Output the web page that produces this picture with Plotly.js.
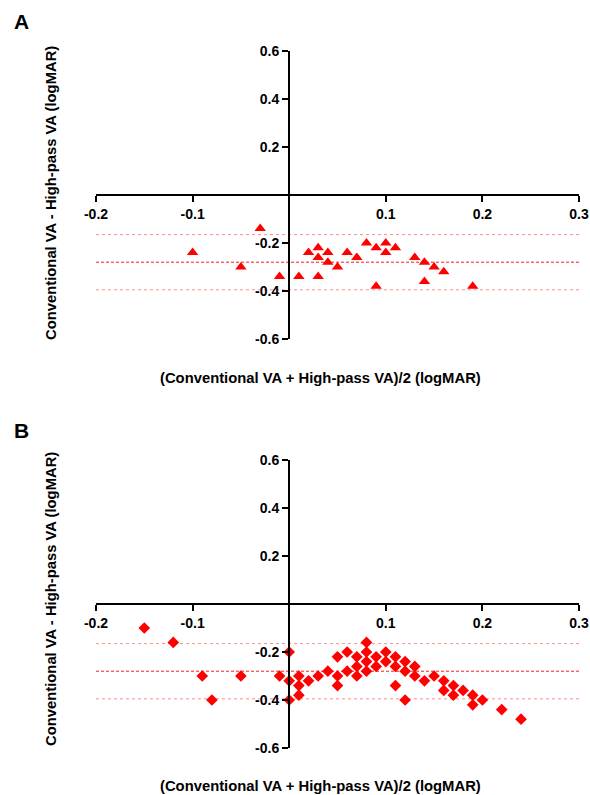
<!DOCTYPE html>
<html>
<head>
<meta charset="utf-8">
<script src="https://cdn.plot.ly/plotly-3.0.1.min.js"></script>
<style>html,body{margin:0;padding:0;background:#fff;}#chart{width:590px;height:795px;}</style>
</head>
<body>
<div id="chart"></div>
<script>
// Panel A data (triangles)
const aMean = [-0.03, -0.10, -0.05, -0.01, 0.01, 0.02, 0.03, 0.03, 0.03, 0.04, 0.04, 0.05, 0.06, 0.07, 0.08, 0.09, 0.09, 0.10, 0.10, 0.11, 0.13, 0.14, 0.14, 0.15, 0.16, 0.19];
const aDiff = [-0.14, -0.24, -0.30, -0.34, -0.34, -0.24, -0.22, -0.26, -0.34, -0.24, -0.28, -0.30, -0.24, -0.26, -0.20, -0.22, -0.38, -0.20, -0.24, -0.22, -0.26, -0.28, -0.36, -0.30, -0.32, -0.38];
// Panel B data (diamonds)
const bMean = [-0.15, -0.12, -0.09, -0.08, -0.05, -0.01, 0.00, 0.00, 0.00, 0.01, 0.01, 0.01, 0.02, 0.03, 0.04, 0.05, 0.05, 0.05, 0.06, 0.06, 0.07, 0.07, 0.07, 0.08, 0.08, 0.08, 0.08, 0.09, 0.09, 0.10, 0.10, 0.11, 0.11, 0.11, 0.12, 0.12, 0.12, 0.13, 0.13, 0.14, 0.15, 0.16, 0.16, 0.17, 0.17, 0.18, 0.19, 0.19, 0.20, 0.22, 0.24];
const bDiff = [-0.10, -0.16, -0.30, -0.40, -0.30, -0.30, -0.20, -0.32, -0.40, -0.30, -0.34, -0.38, -0.32, -0.30, -0.28, -0.22, -0.30, -0.34, -0.20, -0.28, -0.22, -0.26, -0.30, -0.16, -0.20, -0.24, -0.28, -0.22, -0.26, -0.20, -0.24, -0.22, -0.26, -0.34, -0.24, -0.28, -0.40, -0.26, -0.30, -0.32, -0.30, -0.32, -0.36, -0.34, -0.38, -0.36, -0.38, -0.42, -0.40, -0.44, -0.48];
// Bias and limits of agreement
const biasA = -0.28, upperA = -0.165, lowerA = -0.395;
const biasB = -0.28, upperB = -0.165, lowerB = -0.395;
// Axis ticks
const xTickVals = [-0.2, -0.1, 0.1, 0.2, 0.3];
const xTickText = ['-0.2', '-0.1', '0.1', '0.2', '0.3'];
const yTickVals = [0.6, 0.4, 0.2, -0.2, -0.4, -0.6];
const yTickText = ['0.6', '0.4', '0.2', '-0.2', '-0.4', '-0.6'];
const xRange = [-0.2, 0.3];
const yRange = [-0.6, 0.6];
const xTitle = '(Conventional VA + High-pass VA)/2 (logMAR)';
const yTitle = 'Conventional VA - High-pass VA (logMAR)';

const FONT = 'Liberation Sans, Arial, Helvetica, sans-serif';
const tickFont = {family: FONT, size: 14, color: '#000', weight: 700};
const b = s => '<b>' + s + '</b>';

function hline(xa, ya, y, dash, color) {
  return {type: 'line', xref: xa, yref: ya, x0: xRange[0], x1: xRange[1], y0: y, y1: y,
          line: {color: color, width: 1, dash: dash}, layer: 'below'};
}

const traces = [
  {x: aMean, y: aDiff, xaxis: 'x', yaxis: 'y', type: 'scatter', mode: 'markers',
   marker: {symbol: 'triangle-up', size: 10, color: '#ff0000'}, cliponaxis: false},
  {x: bMean, y: bDiff, xaxis: 'x2', yaxis: 'y2', type: 'scatter', mode: 'markers',
   marker: {symbol: 'diamond', size: 9, color: '#ff0000'}, cliponaxis: false}
];

function xAxis(pos) {
  return {domain: [96/590, 579/590], range: xRange, anchor: 'free', position: pos,
    showline: true, linecolor: '#000', linewidth: 2, ticks: 'outside', ticklen: 6, tickwidth: 2,
    tickcolor: '#000', tickvals: xTickVals, ticktext: xTickText.map(b), tickfont: tickFont,
    showgrid: false, zeroline: false, fixedrange: true};
}
function yAxis(dom) {
  return {domain: dom, range: yRange, anchor: 'free', position: 289/590,
    showline: true, linecolor: '#000', linewidth: 2, ticks: 'outside', ticklen: 6, tickwidth: 2,
    tickcolor: '#000', tickvals: yTickVals, ticktext: yTickText.map(b), tickfont: tickFont,
    showgrid: false, zeroline: false, fixedrange: true};
}

const titleFont = {family: FONT, size: 14.8, color: '#000'};
const layout = {
  width: 590, height: 795,
  margin: {l: 0, r: 0, t: 0, b: 0},
  paper_bgcolor: '#fff', plot_bgcolor: 'rgba(0,0,0,0)',
  showlegend: false,
  xaxis: xAxis(1 - 195/795),
  yaxis: yAxis([1 - 339/795, 1 - 51/795]),
  xaxis2: xAxis(1 - 604/795),
  yaxis2: yAxis([1 - 748/795, 1 - 460/795]),
  shapes: [
    hline('x', 'y', upperA, 'dot', '#ff8a8a'),
    hline('x', 'y', biasA, '3px,2px', '#ff1a1a'),
    hline('x', 'y', lowerA, 'dot', '#ff8a8a'),
    hline('x2', 'y2', upperB, 'dot', '#ff8a8a'),
    hline('x2', 'y2', biasB, '3px,2px', '#ff1a1a'),
    hline('x2', 'y2', lowerB, 'dot', '#ff8a8a')
  ],
  annotations: [
    {text: b('A'), xref: 'paper', yref: 'paper', x: 21/590, y: 1 - 22/795, xanchor: 'center', yanchor: 'middle', showarrow: false,
     font: {family: FONT, size: 21, color: '#000'}},
    {text: b('B'), xref: 'paper', yref: 'paper', x: 21/590, y: 1 - 430/795, xanchor: 'center', yanchor: 'middle', showarrow: false,
     font: {family: FONT, size: 21, color: '#000'}},
    {text: b(yTitle), xref: 'paper', yref: 'paper', x: 51/590, y: 1 - 193/795, xanchor: 'center', yanchor: 'middle', textangle: -90, showarrow: false,
     font: titleFont},
    {text: b(yTitle), xref: 'paper', yref: 'paper', x: 51/590, y: 1 - 599/795, xanchor: 'center', yanchor: 'middle', textangle: -90, showarrow: false,
     font: titleFont},
    {text: b(xTitle), xref: 'paper', yref: 'paper', x: 320/590, y: 1 - 378/795, xanchor: 'center', yanchor: 'middle', showarrow: false,
     font: titleFont},
    {text: b(xTitle), xref: 'paper', yref: 'paper', x: 320/590, y: 1 - 786/795, xanchor: 'center', yanchor: 'middle', showarrow: false,
     font: titleFont}
  ]
};

Plotly.newPlot('chart', traces, layout, {displayModeBar: false, staticPlot: true});
</script>
</body>
</html>
